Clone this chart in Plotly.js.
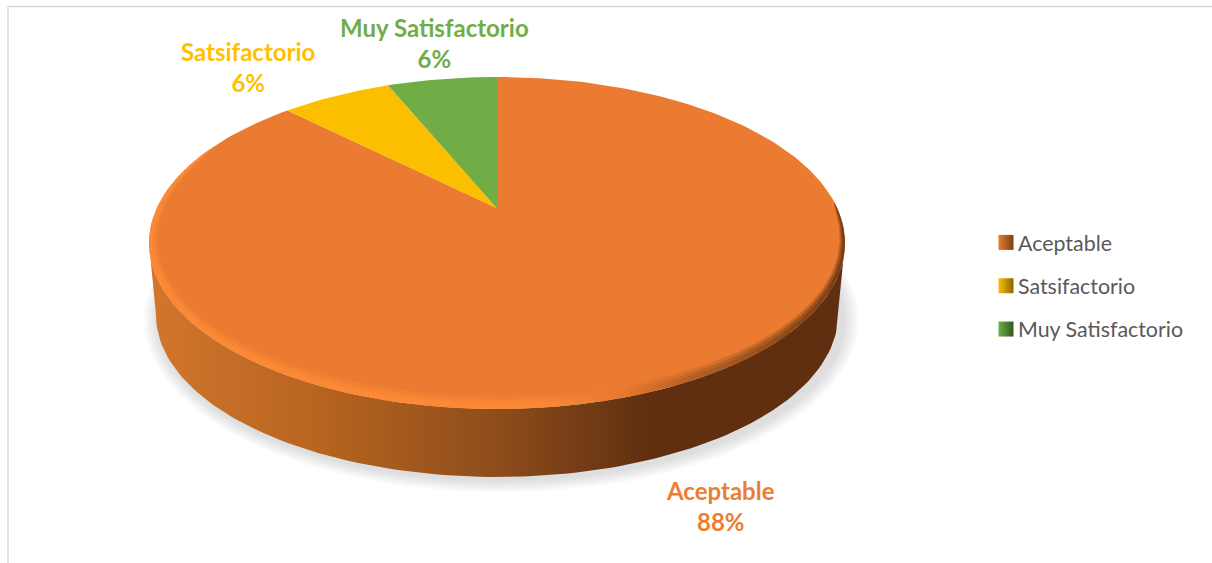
<!DOCTYPE html>
<html><head><meta charset="utf-8">
<script src="https://cdn.plot.ly/plotly-3.0.1.min.js"></script>
<style>html,body{margin:0;padding:0;background:#fff}#c{width:1212px;height:563px}</style>
</head><body><div id="c"></div>
<script>
const categories = ["Aceptable", "Satsifactorio", "Muy Satisfactorio"];
const values = [87.5, 6.25, 6.25];
const labelColors = ["#ED7D31", "#FFC000", "#70AD47"];
const faceColors = ["#EA7B30", "#FCBF00", "#70AD47"];
const swatchDark = ["#7A3F15", "#8A6800", "#2F5A1E"];

const W = 1212, H = 563, cx = 497, cy = 243, rx = 348, ry = 166;
const tilt = 0.21;
const xr = [-cx / rx, (W - cx) / rx], yr = [(cy - H) / ry, cy / ry];
const py = p => (cy - p) / ry;

function arc(a0, a1, ox, oy, sx, sy, n) {
  const xs = [], ys = [];
  for (let i = 0; i <= n; i++) {
    const a = a0 + (a1 - a0) * i / n;
    xs.push(ox + sx * Math.cos(a)); ys.push(oy + sy * Math.sin(a));
  }
  return [xs, ys];
}
function persp(theta) { // theta clockwise from 12 o'clock on the tilted disc
  const x = Math.sin(theta), y = Math.cos(theta), d = 1 + tilt * y;
  return [x * Math.sqrt(1 - tilt * tilt) / d, (y + tilt) / d];
}
function sector(t0, t1) {
  const xs = [0], ys = [tilt];
  const n = Math.max(2, Math.round(Math.abs(t1 - t0) * 40));
  for (let i = 0; i <= n; i++) {
    const p = persp(t0 + (t1 - t0) * i / n);
    xs.push(p[0]); ys.push(p[1]);
  }
  xs.push(0); ys.push(tilt);
  return [xs, ys];
}
function bevel(scale) {
  const a0 = 0.8 * Math.PI, a1 = 2.08 * Math.PI, n = 160, xs = [], ys = [], ix = [], iy = [];
  for (let i = 0; i <= n; i++) {
    const t = i / n, a = a0 + (a1 - a0) * t, f = Math.pow(Math.sin(Math.PI * t), 0.5) * scale;
    xs.push(Math.cos(a)); ys.push(Math.sin(a));
    ix.unshift((1 - 0.036 * f) * Math.cos(a)); iy.unshift((1 - 0.076 * f) * Math.sin(a));
  }
  return [xs.concat(ix), ys.concat(iy)];
}
const base = {type: "scatter", mode: "lines", line: {width: 0}, fill: "toself", hoverinfo: "skip", showlegend: false};
const traces = [];

// soft ground shadow
for (let i = 0; i < 7; i++) {
  const [x, y] = arc(0, 2 * Math.PI, 0.012, py(320), (344 + i * 2.2) / rx, (161 + i * 1.9) / ry, 140);
  traces.push({...base, x, y, fillcolor: "rgba(120,120,120,0.04)"});
}
// disc side wall
const [tx, ty] = arc(Math.PI, 2 * Math.PI, 0, 0, 1, 1, 120);
const [bx, by] = arc(2 * Math.PI, Math.PI, 0, py(315), 341 / rx, 162 / ry, 120);
traces.push({...base, x: tx.concat(bx), y: ty.concat(by),
  fillgradient: {type: "horizontal", colorscale: [[0, "#D2762E"], [0.25, "#B6641F"], [0.5, "#8E4D1B"], [0.72, "#5F2F10"], [1, "#5F2F10"]]}});

// top face sectors, with the bevel drawn only over the large slice
const total = values.reduce((a, b) => a + b, 0);
let acc = 0;
const spans = values.map(v => { const s = [acc, acc + v]; acc += v; return s; });
const rimScale = [[0, "#FF8C38"], [0.55, "#FF8C38"], [0.67, "#EA7B30"], [0.78, "#A85A20"], [1, "#5F2F10"]];
categories.forEach((c, i) => {
  const [x, y] = sector(spans[i][0] / total * 2 * Math.PI, spans[i][1] / total * 2 * Math.PI);
  traces.push({...base, x, y, fillcolor: faceColors[i]});
  if (i === 0) {
    [[1, 0.3], [0.72, 0.45], [0.42, 0.55]].forEach(([s, al]) => {
      const [bvx, bvy] = bevel(s);
      traces.push({...base, x: bvx, y: bvy, opacity: al, fillgradient: {type: "horizontal", colorscale: rimScale}});
    });
  }
});
// legend keys
categories.forEach((c, i) => {
  traces.push({type: "scatter", mode: "markers", x: [null], y: [null], name: c, legendgroup: c, hoverinfo: "skip",
    marker: {symbol: "square", size: 15, color: faceColors[i], gradient: {type: "horizontal", color: swatchDark[i]}}});
});

const labelAt = [[720, 506], [248, 67], [434, 43]];
const annotations = categories.map((c, i) => ({
  xref: "paper", yref: "paper", x: labelAt[i][0] / W, y: 1 - labelAt[i][1] / H, xanchor: "center", yanchor: "middle",
  showarrow: false, align: "center", text: "<b>" + c + "<br>" + Math.round(values[i] / total * 100) + "%</b>",
  font: {family: "Lato, sans-serif", size: 24, color: labelColors[i]}
}));

const layout = {
  width: W, height: H, margin: {l: 0, r: 0, t: 0, b: 0}, paper_bgcolor: "#fff", plot_bgcolor: "#fff",
  xaxis: {range: xr, visible: false, fixedrange: true},
  yaxis: {range: yr, visible: false, fixedrange: true},
  showlegend: true,
  legend: {x: 978 / W, y: 1 - 286 / H, xanchor: "left", yanchor: "middle", traceorder: "grouped", tracegroupgap: 12.5,
    font: {family: "Lato, sans-serif", size: 21.4, color: "#595959"}, itemwidth: 30, bgcolor: "rgba(0,0,0,0)"},
  annotations,
  shapes: [
    {type: "line", xref: "paper", yref: "paper", x0: 8 / W, x1: 1, y0: 1 - 6.5 / H, y1: 1 - 6.5 / H, line: {color: "#D9D9D9", width: 1.5}},
    {type: "line", xref: "paper", yref: "paper", x0: 8 / W, x1: 8 / W, y0: 1 - 6.5 / H, y1: 0, line: {color: "#D9D9D9", width: 1.5}}
  ]
};
Plotly.newPlot("c", traces, layout, {displayModeBar: false, staticPlot: true}).then(gd => {
  gd.querySelectorAll(".legend .legendsymbols").forEach(s => s.setAttribute("transform", "translate(8,0)"));
});
</script></body></html>
